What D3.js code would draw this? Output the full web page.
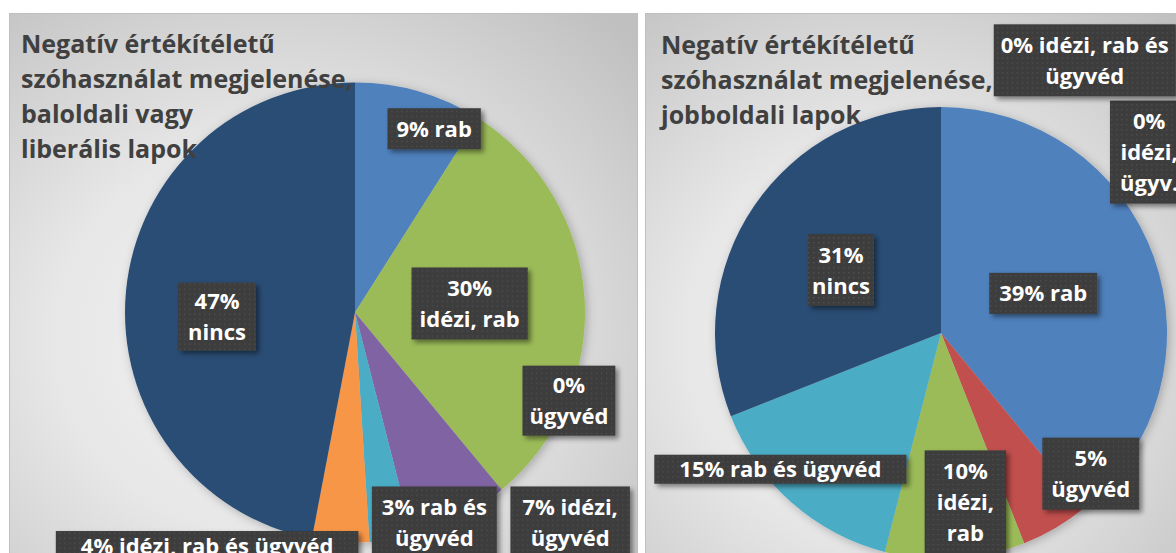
<!DOCTYPE html>
<html>
<head>
<meta charset="utf-8">
<script src="https://cdn.jsdelivr.net/npm/d3@7"></script>
<style>
  body { margin: 0; background: #fff; }
  svg { display: block; }
</style>
</head>
<body>
<svg width="1176" height="553"></svg>
<script>
// bal oldali diagram: baloldali vagy liberális lapok
const leftTitle = ["Negatív értékítéletű", "szóhasználat megjelenése,", "baloldali vagy", "liberális lapok"];
const leftCategories = ["rab", "idézi, rab", "ügyvéd", "idézi, ügyvéd", "rab és ügyvéd", "idézi, rab és ügyvéd", "nincs"];
const leftValues = [9, 30, 0, 7, 3, 4, 47];
const leftLabelText = ["% rab", "%|idézi, rab", "%|ügyvéd", "% idézi,|ügyvéd", "% rab és|ügyvéd", "% idézi, rab és ügyvéd", "%|nincs"];

// jobb oldali diagram: jobboldali lapok
const rightTitle = ["Negatív értékítéletű", "szóhasználat megjelenése,", "jobboldali lapok"];
const rightCategories = ["rab", "ügyvéd", "idézi, rab", "rab és ügyvéd", "nincs", "idézi, ügyvéd", "idézi, rab és ügyvéd"];
const rightValues = [39, 5, 10, 15, 31, 0, 0];
const rightLabelText = ["% rab", "%|ügyvéd", "%|idézi,|rab", "% rab és ügyvéd", "%|nincs", "%|idézi,|ügyv.", "% idézi, rab és|ügyvéd"];

const catColor = {
  "rab": "#4f81bd",
  "ügyvéd": "#c0504d",
  "idézi, rab": "#9bbb59",
  "idézi, ügyvéd": "#8064a2",
  "rab és ügyvéd": "#4bacc6",
  "idézi, rab és ügyvéd": "#f79646",
  "nincs": "#2c4d75"
};

const svg = d3.select("svg");
const defs = svg.append("defs");

const grad = defs.append("radialGradient").attr("id", "bg")
  .attr("cx", "42%").attr("cy", "58%").attr("r", "78%");
grad.selectAll("stop")
  .data([[0, "#f3f3f3"], [0.45, "#e7e7e7"], [1, "#c0c0c0"]])
  .join("stop")
  .attr("offset", d => d[0])
  .attr("stop-color", d => d[1]);

const pat = defs.append("pattern").attr("id", "dots")
  .attr("width", 5).attr("height", 5).attr("patternUnits", "userSpaceOnUse");
pat.append("rect").attr("width", 5).attr("height", 5).attr("fill", "#3c3c3c");
pat.append("rect").attr("x", 2).attr("y", 2).attr("width", 1.4).attr("height", 1.4).attr("fill", "#505050");

const boxShadow = defs.append("filter").attr("id", "boxShadow")
  .attr("x", "-20%").attr("y", "-30%").attr("width", "150%").attr("height", "180%");
boxShadow.append("feDropShadow").attr("dx", 3).attr("dy", 3).attr("stdDeviation", 2.5)
  .attr("flood-color", "#000").attr("flood-opacity", 0.45);

const pieShadow = defs.append("filter").attr("id", "pieShadow")
  .attr("x", "-20%").attr("y", "-20%").attr("width", "140%").attr("height", "140%");
pieShadow.append("feDropShadow").attr("dx", 2).attr("dy", 2).attr("stdDeviation", 5)
  .attr("flood-color", "#000").attr("flood-opacity", 0.25);

const lineH = 31;

function drawPanel(p) {
  p.cats = p.categories;
  const clipId = p.id + "-clip";
  defs.append("clipPath").attr("id", clipId)
    .append("rect").attr("x", p.x).attr("y", p.y).attr("width", p.w).attr("height", p.h);

  const g = svg.append("g").attr("clip-path", `url(#${clipId})`);
  g.append("rect")
    .attr("x", p.x).attr("y", p.y).attr("width", p.w).attr("height", p.h)
    .attr("fill", "url(#bg)")
    .attr("stroke", "#bfbfbf").attr("stroke-width", 2);

  const arcs = d3.pie().sort(null).value(d => d)(p.values);
  const arc = d3.arc().innerRadius(0).outerRadius(p.r);

  const pieG = g.append("g").attr("transform", `translate(${p.cx},${p.cy})`);
  pieG.append("g").attr("filter", "url(#pieShadow)")
    .selectAll("path")
    .data(arcs)
    .join("path")
    .attr("d", arc)
    .attr("fill", (d, i) => catColor[p.categories[i]]);

  // cím
  const title = g.append("text")
    .attr("x", p.titleX).attr("y", p.titleY)
    .attr("fill", "#404040")
    .style("font-family", "'Open Sans', sans-serif")
    .style("font-weight", 700)
    .style("font-size", "25px");
  title.selectAll("tspan")
    .data(p.title)
    .join("tspan")
    .attr("x", p.titleX)
    .attr("dy", (d, i) => i ? 35 : 0)
    .text(d => d);

  // adatfeliratok
  const labels = pieG.selectAll("g.label")
    .data(arcs)
    .join("g")
    .attr("class", "label")
    .attr("transform", (d, i) => {
      const [a, k] = p.labelPos[i];
      const [x, y] = d3.pointRadial(a * Math.PI / 180, k * p.r);
      return `translate(${x},${y})`;
    });

  labels.each(function(d, i) {
    const lg = d3.select(this);
    const lines = (d.data + p.labelText[i]).split("|");
    const pad = p.labelPad[i] || [10, 5];
    const rect = lg.append("rect").attr("fill", "url(#dots)").attr("filter", "url(#boxShadow)");
    const txt = lg.append("text")
      .attr("text-anchor", "middle")
      .attr("fill", "#fff")
      .style("font-family", "'Open Sans', sans-serif")
      .style("font-weight", 700)
      .style("font-size", "22px");
    txt.selectAll("tspan")
      .data(lines)
      .join("tspan")
      .attr("x", 0)
      .attr("y", (t, j) => (j - (lines.length - 1) / 2) * lineH + 8)
      .text(t => t);
    let wMax = 0;
    txt.selectAll("tspan").each(function() { wMax = Math.max(wMax, this.getComputedTextLength()); });
    const bw = wMax + 2 * pad[0];
    const bh = lines.length * lineH + 2 * pad[1];
    rect.attr("x", -bw / 2).attr("y", -bh / 2).attr("width", bw).attr("height", bh);
  });
}

drawPanel({
  id: "left", x: 9, y: 13, w: 629, h: 560,
  cx: 355, cy: 312.5, r: 230,
  titleX: 21, titleY: 53,
  title: leftTitle,
  categories: leftCategories,
  values: leftValues,
  labelText: leftLabelText,
  labelPos: [[23.3, 0.87], [85.5, 0.5], [112.4, 1.006], [134.3, 1.307], [159.3, 0.976], [212.4, 1.2], [268.3, 0.6]],
  labelPad: [[9, 5], [8, 5], [7, 4], [12, 5], [10, 5], [25, -1], [10, 3]]
});

drawPanel({
  id: "right", x: 645, y: 13, w: 560, h: 560,
  cx: 941, cy: 333, r: 226,
  titleX: 661, titleY: 54,
  title: rightTitle,
  categories: rightCategories,
  values: rightValues,
  labelText: rightLabelText,
  labelPos: [[68.8, 0.485], [133.2, 0.909], [171.8, 0.755], [229.7, 0.932], [302.2, 0.523], [49.0, 1.22], [27.8, 1.364]],
  labelPad: [[10, 5], [9, 5], [12, 5], [25, -1], [4, 5], [10, 5], [7, 5]]
});
</script>
</body>
</html>
